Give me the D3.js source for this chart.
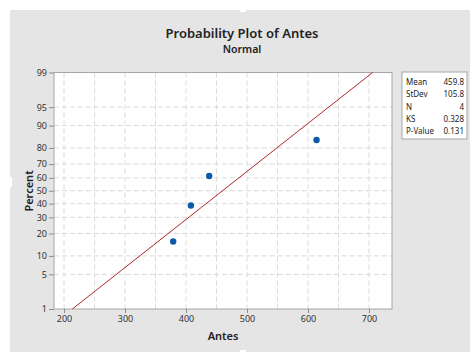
<!DOCTYPE html>
<html>
<head>
<meta charset="utf-8">
<script src="https://cdnjs.cloudflare.com/ajax/libs/d3/7.8.5/d3.min.js"></script>
<style>
  html, body { margin: 0; padding: 0; background: #ffffff; }
  svg { display: block; font-family: "Noto Sans", "Open Sans", sans-serif; }
</style>
</head>
<body>
<svg id="chart" width="470" height="354"></svg>
<script>
// data
var antes = [379, 408, 438, 614];
var xTicks = [200, 300, 400, 500, 600, 700];
var xGrid = [200, 250, 300, 350, 400, 450, 500, 550, 600, 650, 700];
var yTicks = [1, 5, 10, 20, 30, 40, 50, 60, 70, 80, 90, 95, 99];
var statLabels = ["Mean", "StDev", "N", "KS", "P-Value"];
var statValues = ["459.8", "105.8", "4", "0.328", "0.131"];
var fitMean = 459.8;
var fitStDev = 105.8;

// inverse normal cdf (Acklam)
function qnorm(p) {
    var a = [-3.969683028665376e+01, 2.209460984245205e+02, -2.759285104469687e+02,
             1.383577518672690e+02, -3.066479806614716e+01, 2.506628277459239e+00];
    var b = [-5.447609879822406e+01, 1.615858368580409e+02, -1.556989798598866e+02,
             6.680131188771972e+01, -1.328068155288572e+01];
    var c = [-7.784894002430293e-03, -3.223964580411365e-01, -2.400758277161838e+00,
             -2.549732539343734e+00, 4.374664141464968e+00, 2.938163982698783e+00];
    var d = [7.784695709041462e-03, 3.224671290700398e-01, 2.445134137142996e+00,
             3.754408661907416e+00];
    var q, r;
    if (p < 0.02425) {
        q = Math.sqrt(-2 * Math.log(p));
        return (((((c[0]*q+c[1])*q+c[2])*q+c[3])*q+c[4])*q+c[5]) /
               ((((d[0]*q+d[1])*q+d[2])*q+d[3])*q+1);
    } else if (p > 1 - 0.02425) {
        q = Math.sqrt(-2 * Math.log(1 - p));
        return -(((((c[0]*q+c[1])*q+c[2])*q+c[3])*q+c[4])*q+c[5]) /
                ((((d[0]*q+d[1])*q+d[2])*q+d[3])*q+1);
    }
    q = p - 0.5;
    r = q * q;
    return (((((a[0]*r+a[1])*r+a[2])*r+a[3])*r+a[4])*r+a[5])*q /
           (((((b[0]*r+b[1])*r+b[2])*r+b[3])*r+b[4])*r+1);
}

var svg = d3.select("#chart");

// grey panel
svg.append("rect")
    .attr("x", 10).attr("y", 10)
    .attr("width", 460).attr("height", 342)
    .style("fill", "#e5e5e5");
// selection handles
svg.append("rect").attr("x", 240).attr("y", 9).attr("width", 6).attr("height", 3).style("fill", "#fff");
svg.append("rect").attr("x", 0).attr("y", 177).attr("width", 12).attr("height", 10).style("fill", "#fff");
svg.append("rect").attr("x", 240).attr("y", 350).attr("width", 6).attr("height", 4).style("fill", "#fff");

var plot = { left: 54, top: 72.5, right: 392, bottom: 309 };

var x = d3.scaleLinear()
    .domain([183.6, 737.7])
    .range([plot.left, plot.right]);
var y = d3.scaleLinear()
    .domain([qnorm(0.01), qnorm(0.99)])
    .range([plot.bottom, plot.top]);
function yp(pct) { return y(qnorm(pct / 100)); }

svg.append("rect")
    .attr("x", plot.left).attr("y", plot.top)
    .attr("width", plot.right - plot.left)
    .attr("height", plot.bottom - plot.top)
    .style("fill", "#ffffff");

// grid
svg.append("g").selectAll("line")
    .data(xGrid)
    .enter().append("line")
    .attr("x1", function(d) { return x(d); })
    .attr("x2", function(d) { return x(d); })
    .attr("y1", plot.top).attr("y2", plot.bottom)
    .style("stroke", "#dadada")
    .style("stroke-dasharray", "5,3");
svg.append("g").selectAll("line")
    .data(yTicks.slice(1, -1))
    .enter().append("line")
    .attr("x1", plot.left).attr("x2", plot.right)
    .attr("y1", function(d) { return yp(d); })
    .attr("y2", function(d) { return yp(d); })
    .style("stroke", "#dadada")
    .style("stroke-dasharray", "5,3");

// frame
svg.append("rect")
    .attr("x", plot.left).attr("y", plot.top)
    .attr("width", plot.right - plot.left)
    .attr("height", plot.bottom - plot.top)
    .style("fill", "none")
    .style("stroke", "#a6a6a6");

// fitted line
var zLo = qnorm(0.01), zHi = qnorm(0.99);
svg.append("line")
    .attr("x1", x(fitMean + fitStDev * zLo)).attr("y1", y(zLo))
    .attr("x2", x(fitMean + fitStDev * zHi)).attr("y2", y(zHi))
    .style("stroke", "#b0272c")
    .style("stroke-width", 1);

// points (median ranks)
var n = antes.length;
var sorted = antes.slice().sort(d3.ascending);
svg.append("g").selectAll("circle")
    .data(sorted)
    .enter().append("circle")
    .attr("cx", function(d) { return x(d); })
    .attr("cy", function(d, i) { return y(qnorm((i + 1 - 0.3) / (n + 0.4))); })
    .attr("r", 3.2)
    .style("fill", "#0a5bab");

// axes
var xAxis = svg.append("g")
    .attr("transform", "translate(0," + plot.bottom + ")")
    .call(d3.axisBottom(x).tickValues(xTicks).tickSize(4).tickPadding(3));
var yAxis = svg.append("g")
    .attr("transform", "translate(" + plot.left + ",0)")
    .call(d3.axisLeft(d3.scaleLinear().domain(y.domain()).range(y.range()))
        .tickValues(yTicks.map(function(d) { return qnorm(d / 100); }))
        .tickFormat(function(d, i) { return yTicks[i]; })
        .tickSize(5).tickPadding(2));
[xAxis, yAxis].forEach(function(ax) {
    ax.select(".domain").remove();
    ax.selectAll("line").style("stroke", "#8c8c8c");
    ax.selectAll("text")
        .style("font-family", "Noto Sans, sans-serif")
        .style("font-size", "9px")
        .style("fill", "#333");
});

// titles
svg.append("text")
    .attr("x", 242).attr("y", 38)
    .attr("text-anchor", "middle")
    .style("font-size", "13px")
    .style("font-weight", "600")
    .style("fill", "#222")
    .text("Probability Plot of Antes");
svg.append("text")
    .attr("x", 242).attr("y", 53)
    .attr("text-anchor", "middle")
    .style("font-size", "10.5px")
    .style("font-weight", "600")
    .style("fill", "#222")
    .text("Normal");
svg.append("text")
    .attr("x", 223).attr("y", 340)
    .attr("text-anchor", "middle")
    .style("font-size", "11px")
    .style("font-weight", "600")
    .style("fill", "#222")
    .text("Antes");
svg.append("text")
    .attr("transform", "translate(33,191) rotate(-90)")
    .attr("text-anchor", "middle")
    .style("font-size", "11px")
    .style("font-weight", "600")
    .style("fill", "#222")
    .text("Percent");

// stats box
var box = svg.append("g").attr("transform", "translate(402,72)");
box.append("rect")
    .attr("width", 65).attr("height", 67)
    .style("fill", "#ffffff")
    .style("stroke", "#a6a6a6");
var rows = box.selectAll("g.row")
    .data(statLabels)
    .enter().append("g")
    .attr("class", "row")
    .attr("transform", function(d, i) { return "translate(0," + (13 + i * 12.3) + ")"; });
rows.append("text")
    .attr("x", 4)
    .style("font-size", "8px")
    .style("fill", "#222")
    .text(function(d) { return d; });
rows.append("text")
    .attr("x", 62)
    .attr("text-anchor", "end")
    .style("font-size", "8px")
    .style("fill", "#222")
    .text(function(d, i) { return statValues[i]; });
</script>
</body>
</html>
